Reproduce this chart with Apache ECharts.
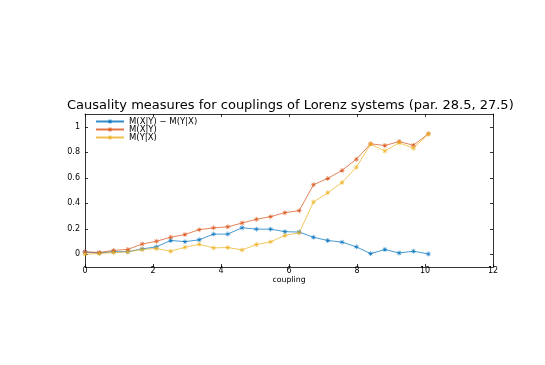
<!DOCTYPE html>
<html lang="en">
<head>
    <meta charset="UTF-8">
    <title>Causality measures</title>
    <script src="https://cdn.jsdelivr.net/npm/echarts@6/dist/echarts.min.js"></script>
    <style>
        html, body { margin: 0; padding: 0; background: #fff; }
        #chart { width: 545px; height: 365px; }
    </style>
</head>
<body>
<div id="chart"></div>
<script>
    const coupling = [0, 0.42, 0.84, 1.26, 1.68, 2.1, 2.52, 2.94, 3.36, 3.78, 4.2, 4.62, 5.04,
        5.46, 5.88, 6.3, 6.72, 7.14, 7.56, 7.98, 8.4, 8.82, 9.24, 9.66, 10.1];
    const mXY = [0.019, 0.014, 0.03, 0.038, 0.08, 0.102, 0.133, 0.155, 0.193, 0.207, 0.215, 0.245, 0.274,
        0.295, 0.326, 0.342, 0.545, 0.595, 0.658, 0.745, 0.866, 0.853, 0.884, 0.855, 0.945];
    const mYX = [0.0, 0.006, 0.013, 0.018, 0.038, 0.045, 0.024, 0.055, 0.078, 0.05, 0.053, 0.034, 0.076,
        0.097, 0.148, 0.168, 0.41, 0.482, 0.563, 0.682, 0.863, 0.81, 0.874, 0.832, 0.942];
    const diff = [0.017, 0.01, 0.02, 0.02, 0.042, 0.058, 0.108, 0.099, 0.113, 0.158, 0.158, 0.208, 0.197,
        0.197, 0.177, 0.174, 0.133, 0.108, 0.095, 0.058, 0.005, 0.037, 0.01, 0.024, 0.002];
    const xTicks = [0, 2, 4, 6, 8, 10, 12];
    const yTicks = [0, 0.2, 0.4, 0.6, 0.8, 1];

    const font = 'DejaVu Sans';
    // small asterisk marker
    const star = 'path://M-0.12,-1L0.12,-1L0.12,1L-0.12,1Z M-1,-0.12L1,-0.12L1,0.12L-1,0.12Z ' +
        'M-0.79,-0.62L-0.62,-0.79L0.79,0.62L0.62,0.79Z M0.62,-0.79L0.79,-0.62L-0.62,0.79L-0.79,0.62Z';

    function pairs(ys) {
        return coupling.map((x, i) => [x, ys[i]]);
    }

    function lineSeries(name, ys, color) {
        return {
            name: name,
            type: 'line',
            data: pairs(ys),
            color: color,
            symbol: star,
            symbolSize: 5,
            showSymbol: true,
            lineStyle: { width: 0.9, color: color, opacity: 0.8 },
            itemStyle: { color: color, opacity: 0.85 },
            emphasis: { disabled: true }
        };
    }

    const tickStyle = { show: true, inside: true, length: 3, lineStyle: { color: '#000', width: 0.8 } };
    const lineStyle = { show: true, onZero: false, lineStyle: { color: '#000', width: 0.8 } };

    const chart = echarts.init(document.getElementById('chart'));
    chart.setOption({
        animation: false,
        textStyle: { fontFamily: font },
        title: {
            text: 'Causality measures for couplings of Lorenz systems (par. 28.5, 27.5)',
            left: 67,
            top: 99,
            padding: 0,
            textStyle: { fontFamily: font, fontSize: 13, fontWeight: 'normal', color: '#000' }
        },
        legend: {
            orient: 'vertical',
            left: 95,
            top: 117,
            padding: 0,
            itemGap: -1,
            itemWidth: 28,
            itemHeight: 6,
            textStyle: { fontFamily: font, fontSize: 8.5, color: '#000', padding: [0, 0, 0, 0] },
            data: ['M(X|Y) \u2212 M(Y|X)', 'M(X|Y)', 'M(Y|X)']
        },
        grid: { left: 85, right: 52, top: 114, bottom: 98, containLabel: false },
        xAxis: [{
            type: 'value', min: 0, max: 12, interval: 2,
            name: 'coupling', nameLocation: 'middle', nameGap: 6,
            nameTextStyle: { fontFamily: font, fontSize: 7.8, color: '#000', verticalAlign: 'top' },
            axisLine: lineStyle, axisTick: tickStyle, splitLine: { show: false },
            axisLabel: { fontFamily: font, fontSize: 8, color: '#000', margin: 0,
                customValues: xTicks }
        }, {
            type: 'value', min: 0, max: 12, interval: 2, position: 'top',
            axisLine: lineStyle, axisTick: tickStyle, splitLine: { show: false },
            axisLabel: { show: false }
        }],
        yAxis: [{
            type: 'value', min: -0.1, max: 1.1,
            axisLine: lineStyle, splitLine: { show: false },
            axisTick: Object.assign({ customValues: yTicks }, tickStyle),
            axisLabel: { fontFamily: font, fontSize: 8, color: '#000', margin: 5,
                customValues: yTicks }
        }, {
            type: 'value', min: -0.1, max: 1.1, position: 'right',
            axisLine: lineStyle, splitLine: { show: false },
            axisTick: Object.assign({ customValues: yTicks }, tickStyle),
            axisLabel: { show: false }
        }],
        series: [
            lineSeries('M(X|Y) \u2212 M(Y|X)', diff, '#0072BD'),
            lineSeries('M(X|Y)', mXY, '#D95319'),
            lineSeries('M(Y|X)', mYX, '#EDB120')
        ]
    });
</script>
</body>
</html>
